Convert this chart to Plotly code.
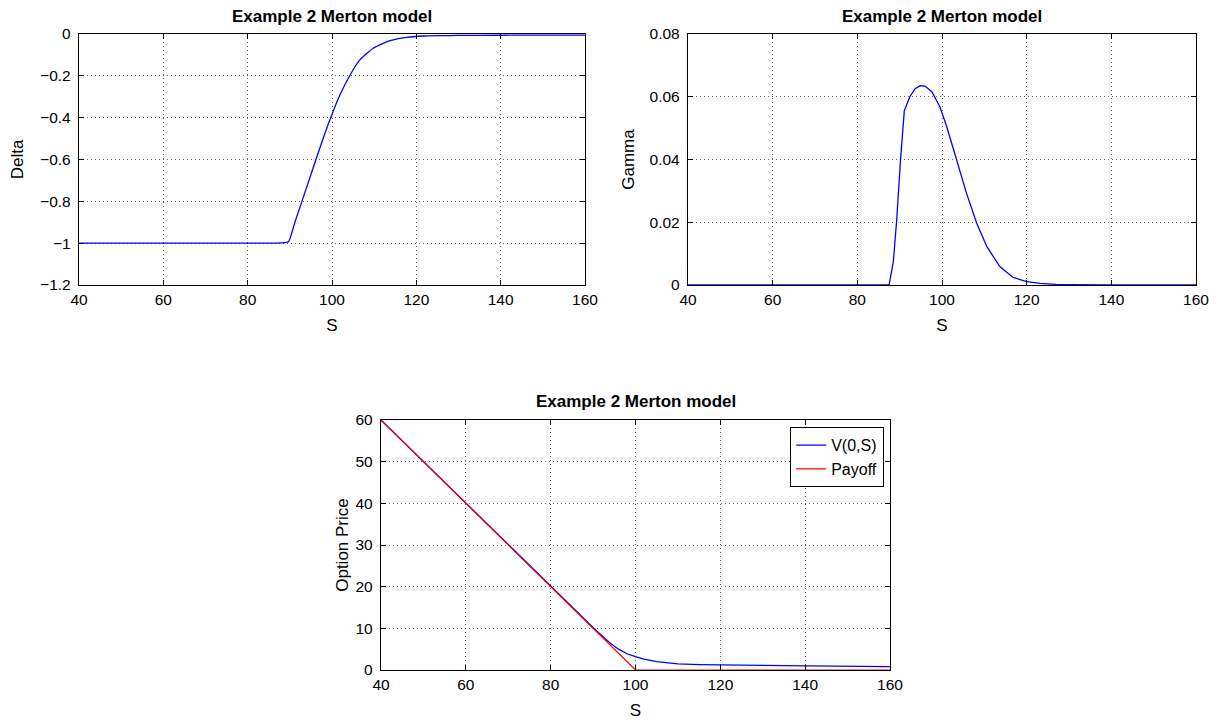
import plotly.graph_objects as go

# ---- data ----
S_delta = [40, 50, 60, 70, 80, 88, 89.65, 91.2, 93.2, 95.2, 97.2, 99.5, 101.9, 104.3,
           106.6, 109.8, 113.8, 117.7, 121.7, 125.6, 130, 140, 150, 160]
delta = [-1, -1, -1, -1, -1, -0.999, -0.993, -0.9, -0.78, -0.66, -0.54, -0.41, -0.29, -0.196,
         -0.124, -0.068, -0.032, -0.016, -0.0096, -0.008, -0.007, -0.006, -0.005, -0.005]

S_gamma = [40, 60, 80, 87.5, 88.5, 89.3, 90.2, 91.1, 92.4, 93.6, 94.8, 96.0, 97.6, 99.5,
           101.1, 103.5, 105.8, 108.2, 110.6, 113.7, 116.8, 120, 123.2, 127, 130, 140, 160]
gamma = [0, 0, 0, 0, 0.0074, 0.0207, 0.0398, 0.0556, 0.0600, 0.0625, 0.0635, 0.0634, 0.0616,
         0.0568, 0.0505, 0.0400, 0.0292, 0.0197, 0.0122, 0.0058, 0.0024, 0.0011, 0.0005,
         0.0002, 0.0001, 0, 0]

S_price = [40, 50, 60, 70, 80, 88, 90, 92, 94, 96, 98, 100, 102, 105, 108, 110, 115,
           120, 130, 140, 150, 160]
V = [60, 50, 40, 30, 20, 12.05, 10.2, 8.3, 6.5, 5.0, 3.9, 3.2, 2.6, 2.0, 1.6, 1.45, 1.3,
     1.2, 1.1, 1.0, 0.9, 0.8]

S_payoff = [40, 100, 160]
payoff = [60, 0, 0]

x_ticks = [40, 60, 80, 100, 120, 140, 160]
delta_ticks = [-1.2, -1, -0.8, -0.6, -0.4, -0.2, 0]
delta_ticktext = ["\u22121.2", "\u22121", "\u22120.8", "\u22120.6", "\u22120.4", "\u22120.2", "0"]
gamma_ticks = [0, 0.02, 0.04, 0.06, 0.08]
gamma_ticktext = ["0", "0.02", "0.04", "0.06", "0.08"]
price_ticks = [0, 10, 20, 30, 40, 50, 60]

title_text = "Example 2 Merton model"

# ---- figure ----
W, H = 1222, 723
FONT = "Liberation Sans, Arial, Helvetica, sans-serif"
fig = go.Figure()

fig.add_trace(go.Scatter(x=S_delta, y=delta, mode="lines",
                         line=dict(color="#0000ff", width=1.3, shape="spline", smoothing=0.6),
                         xaxis="x", yaxis="y", showlegend=False))
fig.add_trace(go.Scatter(x=S_gamma, y=gamma, mode="lines", line=dict(color="#0000ff", width=1.3),
                         xaxis="x2", yaxis="y2", showlegend=False))
fig.add_trace(go.Scatter(x=S_price, y=V, mode="lines", name="V(0,S)",
                         line=dict(color="#0000ff", width=1.3), xaxis="x3", yaxis="y3"))
fig.add_trace(go.Scatter(x=S_payoff, y=payoff, mode="lines", name="Payoff",
                         line=dict(color="#ff0000", width=1.2), xaxis="x3", yaxis="y3"))


def px_x(p):
    return p / W


def px_y(p):
    return 1 - p / H


axis_font = dict(family=FONT, size=15.5, color="#000")
common = dict(showline=True, linecolor="#000", linewidth=1.4, mirror="allticks",
              ticks="inside", ticklen=5, tickcolor="#000", tickwidth=1, showgrid=True,
              gridcolor="rgba(0,0,0,0.6)", griddash="1px,3px", gridwidth=1,
              zeroline=False, tickfont=axis_font, automargin=False)

dom_x1 = [px_x(79), px_x(585)]
dom_x2 = [px_x(688), px_x(1196)]
dom_x3 = [px_x(381), px_x(890)]
dom_ytop = [px_y(285), px_y(34)]
dom_ybot = [px_y(670), px_y(420)]


def ttl(text, standoff):
    return dict(text=text, font=dict(family=FONT, size=17, color="#000"), standoff=standoff)


fig.update_layout(
    xaxis=dict(domain=dom_x1, range=[40, 160], tickvals=x_ticks, anchor="y", title=ttl("S", 12), **common),
    yaxis=dict(domain=dom_ytop, range=[-1.2, 0], tickvals=delta_ticks, ticktext=delta_ticktext,
               anchor="x", title=ttl("Delta", 12), ticklabelstandoff=4, **common),
    xaxis2=dict(domain=dom_x2, range=[40, 160], tickvals=x_ticks, anchor="y2", title=ttl("S", 12), **common),
    yaxis2=dict(domain=dom_ytop, range=[0, 0.08], tickvals=gamma_ticks, ticktext=gamma_ticktext,
                anchor="x2", title=ttl("Gamma", 10), ticklabelstandoff=4, **common),
    xaxis3=dict(domain=dom_x3, range=[40, 160], tickvals=x_ticks, anchor="y3", title=ttl("S", 12), **common),
    yaxis3=dict(domain=dom_ybot, range=[0, 60], tickvals=price_ticks, anchor="x3",
                title=ttl("Option Price", 2), ticklabelstandoff=4, **common),
    width=W, height=H,
    margin=dict(l=0, r=0, t=0, b=0),
    paper_bgcolor="#fff", plot_bgcolor="#fff",
    font=dict(family=FONT, color="#000"),
    legend=dict(x=px_x(884), y=px_y(427), xanchor="right", yanchor="top",
                bordercolor="#000", borderwidth=1.2, bgcolor="#fff",
                font=dict(family=FONT, size=16, color="#000"),
                tracegroupgap=0, itemwidth=30),
)

for xc, yc in [((79 + 585) / 2, 16), ((688 + 1196) / 2, 16), ((381 + 890) / 2, 401)]:
    fig.add_annotation(text="<b>" + title_text + "</b>", x=px_x(xc), y=px_y(yc),
                       xref="paper", yref="paper", showarrow=False,
                       font=dict(family=FONT, size=17, color="#000"),
                       xanchor="center", yanchor="middle")

fig.write_html("out.html")
